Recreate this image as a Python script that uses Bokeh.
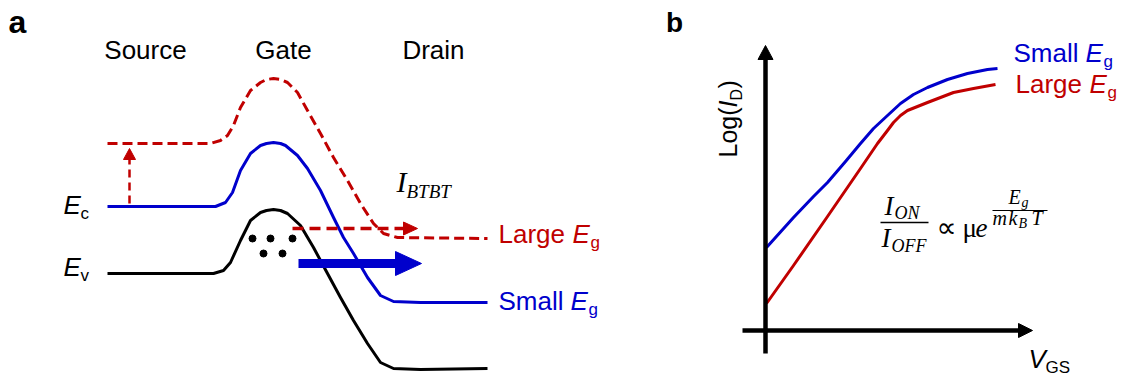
from math import pi
from bokeh.plotting import figure
from bokeh.models import Range1d
from bokeh.core.properties import value
from bokeh.embed import file_html
from bokeh.resources import INLINE

BLUE = "#0000CC"
RED = "#C00000"
BLACK = "#000000"
SANS = "Liberation Sans"
SERIF = "Liberation Serif"

# ---------------- Panel a: band diagram (schematic position, energy) ----------------
ec_x = [107, 215, 225, 232, 240, 250, 260, 266, 273, 280, 285, 297, 307, 320, 333, 343, 353, 367, 380, 393, 420, 487]
ec_y = [206, 206, 202, 192, 170, 153, 145, 143, 142, 143, 145, 155, 168, 190, 217, 237, 253, 277, 295, 301, 302, 302]

eclarge_x = [107, 210, 220, 227, 233, 240, 250, 260, 266, 273, 280, 287, 297, 307, 320, 333, 347, 360, 373, 383, 397, 487]
eclarge_y = [143, 143, 140, 135, 125, 107, 90, 82, 79, 78, 79, 82, 92, 110, 133, 157, 180, 203, 223, 233, 237, 238]

ev_x = [107, 213, 223, 230, 240, 250, 260, 266, 273, 280, 287, 300, 313, 327, 340, 353, 367, 380, 393, 420, 487]
ev_y = [273, 273, 270, 262, 240, 220, 212, 210, 209, 210, 213, 225, 247, 273, 297, 320, 343, 362, 368, 369, 368]

hole_x = [252, 270, 292, 263, 282]
hole_y = [238, 238, 238, 253, 253]

region_labels = ["Source", "Gate", "Drain"]
region_x = [145, 283, 433]

# ---------------- Panel b: transfer curves ----------------
small_vgs = [766, 793, 813, 827, 845, 860, 873, 887, 900, 913, 927, 947, 967, 987, 997]
small_logid = [247, 217, 196, 182, 161, 143, 128, 115, 103, 94, 87, 79, 73, 69, 68]

large_vgs = [766, 793, 827, 860, 877, 887, 893, 900, 907, 917, 927, 953, 973, 995]
large_logid = [303, 265, 216, 168, 143, 130, 122, 115, 110, 106, 102, 92, 88, 84]

p = figure(width=1128, height=380, x_range=Range1d(0, 1128), y_range=Range1d(380, 0),
           output_backend="svg", toolbar_location=None, min_border=0,
           x_axis_type=None, y_axis_type=None)
p.outline_line_color = None
p.background_fill_color = "white"
p.border_fill_color = "white"
p.grid.visible = False

K = 0.37  # text anchor sits at the box middle; shift so that (x, y) is the baseline


def txt(x, y, s, size, color=BLACK, style="normal", font=SANS, align="left", angle=0.0):
    if angle:
        x = x - K * size
    else:
        y = y - K * size
    p.text(x=[x], y=[y], text=[s], text_font=value(font), text_font_size=value(f"{size}px"),
           text_font_style=style, text_color=color, text_baseline="alphabetic",
           text_align=align, angle=angle)


def tri(tip, base, half, color, horizontal=True):
    if horizontal:
        xs = [tip[0], base, base]
        ys = [tip[1], tip[1] - half, tip[1] + half]
    else:
        xs = [tip[0], tip[0] - half, tip[0] + half]
        ys = [tip[1], base, base]
    p.patch(xs, ys, fill_color=color, line_color=color, line_width=1)


# band lines
p.line(eclarge_x, eclarge_y, line_color=RED, line_width=3, line_dash="10 5", line_join="round")
p.line(ec_x, ec_y, line_color=BLUE, line_width=3, line_join="round")
p.line(ev_x, ev_y, line_color=BLACK, line_width=3, line_join="round")
p.scatter(hole_x, hole_y, size=7, color=BLACK)

# vertical dashed arrow (band gap shift)
p.segment(x0=[129], y0=[203], x1=[129], y1=[158], line_color=RED, line_width=2.5, line_dash="8 5")
tri((129, 148), 159, 6, RED, horizontal=False)

# red dashed BTBT arrow
p.segment(x0=[292], y0=[228], x1=[403], y1=[228], line_color=RED, line_width=3.5, line_dash="11 6")
tri((417, 228), 403, 6.5, RED)

# blue thick BTBT arrow
p.segment(x0=[298], y0=[263], x1=[397], y1=[263], line_color=BLUE, line_width=9)
tri((421, 263), 395, 12, BLUE)

# panel a texts
txt(17, 33, "a", 32, style="bold", align="center")
for lab, xx in zip(region_labels, region_x):
    txt(xx, 59, lab, 26, align="center")
txt(63, 214, "E", 26, style="italic")
txt(80, 219, "c", 17)
txt(63, 276, "E", 26, style="italic")
txt(80, 281, "v", 17)
txt(396, 192, "I", 30, style="italic", font=SERIF)
txt(406, 198, "BTBT", 19, style="italic", font=SERIF)
txt(498, 243, "Large ", 26, color=RED)
txt(572, 243, "E", 26, color=RED, style="italic")
txt(590, 248, "g", 17, color=RED)
txt(498, 310, "Small ", 26, color=BLUE)
txt(570, 310, "E", 26, color=BLUE, style="italic")
txt(588, 315, "g", 17, color=BLUE)

# ---------------- Panel b ----------------
p.line(small_vgs, small_logid, line_color=BLUE, line_width=3, line_join="round")
p.line(large_vgs, large_logid, line_color=RED, line_width=3, line_join="round")

# axes with arrows
p.segment(x0=[765], y0=[353], x1=[765], y1=[57], line_color=BLACK, line_width=4.5)
tri((765, 45), 59, 7.5, BLACK, horizontal=False)
p.segment(x0=[742], y0=[330], x1=[1020], y1=[330], line_color=BLACK, line_width=4.5)
tri((1032, 330), 1018, 7, BLACK)

txt(674, 32, "b", 28, style="bold", align="center")

# Log(I_D) rotated
txt(737, 157, "Log(", 25, angle=pi / 2)
txt(737, 107, "I", 25, style="italic", angle=pi / 2)
txt(742, 100, "D", 16, angle=pi / 2)
txt(737, 88, ")", 25, angle=pi / 2)

# V_GS
txt(1028, 368, "V", 26, style="italic")
txt(1045, 373, "GS", 17)

# legend-like labels
txt(1013, 62, "Small ", 26, color=BLUE)
txt(1085, 62, "E", 26, color=BLUE, style="italic")
txt(1103, 67, "g", 17, color=BLUE)
txt(1015, 93, "Large ", 26, color=RED)
txt(1089, 93, "E", 26, color=RED, style="italic")
txt(1107, 98, "g", 17, color=RED)

# formula I_ON / I_OFF ∝ μ e^(E_g / m k_B T)
txt(884, 215, "I", 27, style="italic", font=SERIF)
txt(894, 219, "ON", 18, style="italic", font=SERIF)
p.segment(x0=[880], y0=[222], x1=[928], y1=[222], line_color=BLACK, line_width=1.5)
txt(881, 247, "I", 27, style="italic", font=SERIF)
txt(891, 252, "OFF", 18, style="italic", font=SERIF)
txt(936, 237, "∝", 28, font="DejaVu Sans")
txt(962, 237, "μ", 27, font=SERIF)
txt(975, 237, "e", 27, style="italic", font=SERIF)
txt(1008, 204, "E", 20, style="italic", font=SERIF)
txt(1021, 207, "g", 14, style="italic", font=SERIF)
p.segment(x0=[992], y0=[210], x1=[1047], y1=[210], line_color=BLACK, line_width=1.2)
txt(992, 225, "m", 20, style="italic", font=SERIF)
txt(1008, 225, "k", 20, style="italic", font=SERIF)
txt(1018, 228, "B", 14, style="italic", font=SERIF)
txt(1031, 225, "T", 20, style="italic", font=SERIF)

open("out.html", "w").write(file_html(p, INLINE))
